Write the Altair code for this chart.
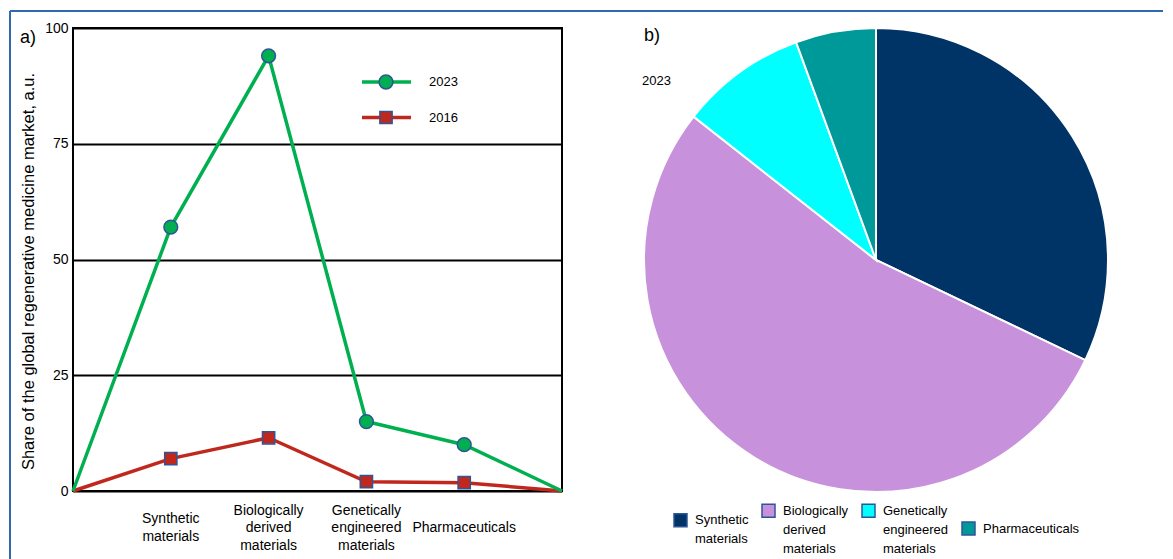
import altair as alt
import pandas as pd

# ---------------- data ----------------
categories = ["Synthetic materials", "Biologically derived materials",
              "Genetically engineered materials", "Pharmaceuticals"]
category_lines = [["Synthetic", "materials"],
                  ["Biologically", "derived", "materials"],
                  ["Genetically", "engineered", "materials"],
                  ["Pharmaceuticals"]]
category_pos = [1, 2, 3, 4]
positions = [0, 1, 2, 3, 4, 5]
share_2023 = [0, 57, 94, 15, 10, 0]
share_2016 = [0, 7, 11.5, 2, 1.8, 0]
years = ["2023", "2016"]
pie_share_2023 = [32.1, 53.5, 8.8, 5.6]
pie_colors = ["#003366", "#C891DC", "#00FFFF", "#009999"]
y_ticks = [0, 25, 50, 75, 100]

GREEN = "#00B050"
RED = "#C0281E"
EDGE = "#2F5597"
FRAME = "#2E6AAE"
SANS = "Liberation Sans"
W, H = 489, 463
LH = 17.5

# ---------------- line chart ----------------
df_line = pd.DataFrame({
    "pos": positions * 2,
    "share": share_2023 + share_2016,
    "year": ["2023"] * len(positions) + ["2016"] * len(positions),
})

x_enc = alt.X("pos:Q", scale=alt.Scale(domain=[0, 5], nice=False, zero=False), axis=None)
y_enc = alt.Y("share:Q", scale=alt.Scale(domain=[0, 100], nice=False),
              axis=alt.Axis(values=y_ticks, grid=True, gridColor="black", gridWidth=2,
                            gridOpacity=1, domain=False, ticks=False, tickSize=0,
                            labelFont=SANS, labelFontSize=14, labelPadding=5,
                            labelColor="black",
                            title="Share of the global regenerative medicine market, a.u.",
                            titleFont=SANS, titleFontSize=16.5, titleFontWeight="normal",
                            titleColor="black", titleX=-45, titleY=243,
                            titleBaseline="middle"))

base = alt.Chart(df_line).encode(x=x_enc, y=y_enc)

line16 = base.transform_filter("datum.year == '2016'").mark_line(color=RED, strokeWidth=3.5)
line23 = base.transform_filter("datum.year == '2023'").mark_line(color=GREEN, strokeWidth=3.5)
pts16 = base.transform_filter("datum.year == '2016' && datum.pos > 0 && datum.pos < 5").mark_point(
    shape="square", filled=True, fill=RED, stroke=EDGE, strokeWidth=1.5, size=150, opacity=1)
pts23 = base.transform_filter("datum.year == '2023' && datum.pos > 0 && datum.pos < 5").mark_point(
    shape="circle", filled=True, fill=GREEN, stroke=EDGE, strokeWidth=1.5, size=190, opacity=1)

# category labels under the plot, vertically centred
df_lab = pd.DataFrame({
    "pos": category_pos,
    "label": ["\n".join(l) for l in category_lines],
    "n": [len(l) for l in category_lines],
})
label_layers = []
for n in sorted(df_lab["n"].unique()):
    label_layers.append(
        alt.Chart(df_lab[df_lab["n"] == n]).mark_text(
            font=SANS, fontSize=14, lineBreak="\n", lineHeight=LH, baseline="middle",
            align="center", color="black", dy=-(n - 1) * LH / 2).encode(
            x=alt.X("pos:Q", axis=None), y=alt.value(H + 37), text="label:N"))

legend_layers = []
for yr, col, shp, sz, ly in [("2023", GREEN, "circle", 190, 54), ("2016", RED, "square", 150, 89.5)]:
    src = alt.Chart(pd.DataFrame({"label": [yr]}))
    legend_layers.append(src.mark_rule(color=col, strokeWidth=3.5).encode(
        x=alt.value(289), x2=alt.value(338), y=alt.value(ly)))
    legend_layers.append(src.mark_point(shape=shp, filled=True, fill=col, stroke=EDGE,
                                        strokeWidth=1.5, size=sz, opacity=1).encode(
        x=alt.value(313), y=alt.value(ly)))
    legend_layers.append(src.mark_text(align="left", baseline="middle", font=SANS,
                                       fontSize=13, color="black").encode(
        text="label:N", x=alt.value(356), y=alt.value(ly)))

one = alt.Chart(pd.DataFrame({"t": ["a)"]}))
a_text = one.mark_text(font=SANS, fontSize=18, align="center", baseline="middle",
                       color="black").encode(text="t:N", x=alt.value(-45), y=alt.value(10))
frame_top = one.mark_rule(color=FRAME, strokeWidth=2).encode(
    x=alt.value(-63), x2=alt.value(1090), y=alt.value(-17))
frame_left = one.mark_rule(color=FRAME, strokeWidth=2).encode(
    x=alt.value(-63), y=alt.value(-17), y2=alt.value(540))

left = alt.layer(frame_top, frame_left, line16, line23, pts16, pts23, a_text,
                 *label_layers, *legend_layers).properties(
    width=W, height=H,
    view=alt.ViewBackground(stroke="black", strokeWidth=2))

# ---------------- pie chart ----------------
df_pie = pd.DataFrame({"category": categories, "share": pie_share_2023,
                       "order": list(range(len(categories)))})


def js_arr(lines):
    return "[" + ",".join("'" + s + "'" for s in lines) + "]"


legend_expr = ""
for cat, lines in zip(categories, category_lines):
    legend_expr += f"datum.label == '{cat}' ? {js_arr(lines)} : "
legend_expr += "datum.label"

arcs = alt.Chart(df_pie).mark_arc(outerRadius=232, stroke="white", strokeWidth=2).encode(
    theta=alt.Theta("share:Q", stack=True),
    color=alt.Color("category:N", sort=categories,
                    scale=alt.Scale(domain=categories, range=pie_colors),
                    legend=alt.Legend(orient="none", legendX=73, legendY=475,
                                      direction="horizontal", columns=4, title=None,
                                      symbolType="square", symbolSize=169,
                                      symbolStrokeColor=EDGE, symbolStrokeWidth=1.5,
                                      symbolOpacity=1,
                                      labelFont=SANS, labelFontSize=13, labelColor="black",
                                      labelOffset=7, columnPadding=10, padding=0,
                                      labelExpr=legend_expr)),
    order=alt.Order("order:Q"),
    x=alt.value(276), y=alt.value(232),
)

b_src = alt.Chart(pd.DataFrame({"t": ["b)"]}))
b_text = b_src.mark_text(font=SANS, fontSize=18, align="center", baseline="middle",
                         color="black").encode(text="t:N", x=alt.value(52), y=alt.value(8))
y_src = alt.Chart(pd.DataFrame({"t": [years[0]]}))
yr_text = y_src.mark_text(font=SANS, fontSize=13, align="left", baseline="middle",
                          color="black").encode(text="t:N", x=alt.value(42), y=alt.value(53))

right = alt.layer(arcs, b_text, yr_text).properties(
    width=550, height=H, view=alt.ViewBackground(strokeWidth=0, strokeOpacity=0))

chart = alt.hconcat(left, right, spacing=38, bounds="flush").resolve_scale(
    color="independent").resolve_legend(color="independent").properties(
    padding={"left": 0, "top": 1, "right": 0, "bottom": 0}).configure(
    style={"guide-label": {"lineHeight": 19}},
    view=alt.ViewConfig(strokeWidth=0))

chart.save("out.html", embed_options={"renderer": "svg", "actions": False})
